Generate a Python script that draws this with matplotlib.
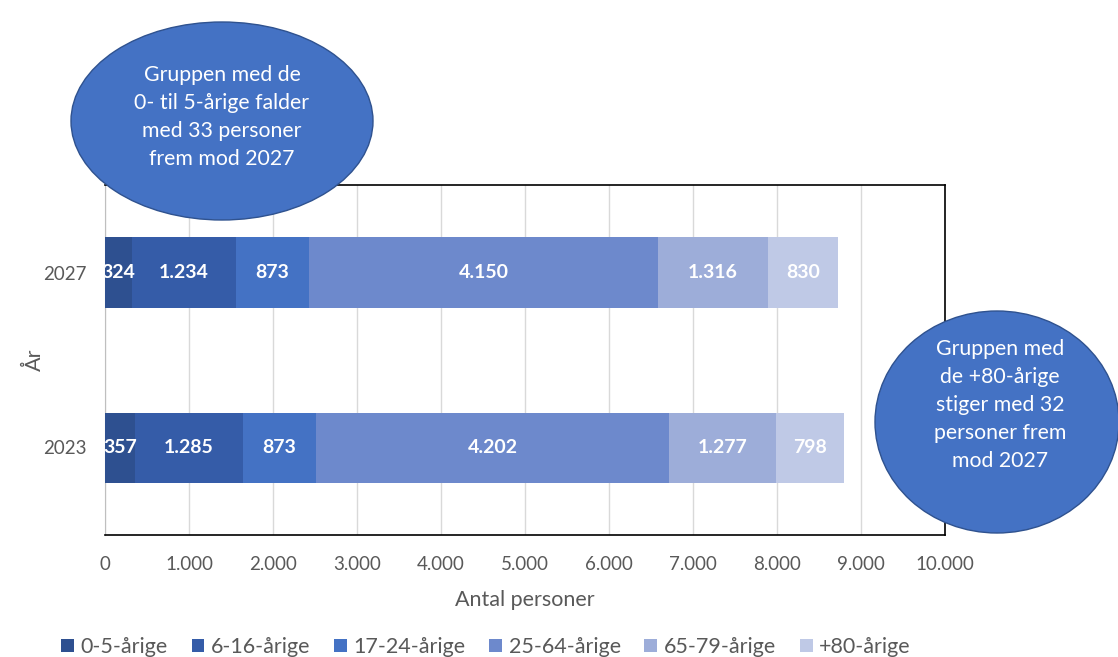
import matplotlib
import matplotlib.pyplot as plt
from matplotlib import ticker as mtick
from matplotlib.patches import Ellipse
import numpy as np

plt.rcParams["font.family"] = ["Lato", "DejaVu Sans"]

# data
years = ["2023", "2027"]
groups = ["0-5-årige", "6-16-årige", "17-24-årige", "25-64-årige", "65-79-årige", "+80-årige"]
v2023 = [357, 1285, 873, 4202, 1277, 798]
v2027 = [324, 1234, 873, 4150, 1316, 830]
colors = ["#2E5090", "#355CA8", "#4472C4", "#6D89CC", "#9DADD9", "#BFC9E6"]

note_left = "Gruppen med de\n0- til 5-årige falder\nmed 33 personer\nfrem mod 2027"
note_right = "Gruppen med\nde +80-årige\nstiger med 32\npersoner frem\nmod 2027"

W, H = 1118, 657
fig = plt.figure(figsize=(W / 100, H / 100), dpi=100)
ax = fig.add_axes([105 / W, 1 - 535 / H, 840 / W, 350 / H])

vals = np.array([v2023, v2027])
y = np.arange(len(years))
left = np.zeros(len(years))
for i, g in enumerate(groups):
    bars = ax.barh(y, vals[:, i], left=left, height=0.4, color=colors[i], label=g, zorder=3)
    for b, v in zip(bars, vals[:, i]):
        ax.text(b.get_x() + b.get_width() / 2, b.get_y() + b.get_height() / 2,
                f"{v:,}".replace(",", "."), ha="center", va="center",
                color="white", fontsize=14, fontweight="bold", zorder=4, clip_on=True)
    left += vals[:, i]

ax.set_xlim(0, 10000)
ax.set_ylim(-0.5, 1.5)
ax.xaxis.set_major_locator(mtick.MultipleLocator(1000))
ax.xaxis.set_major_formatter(mtick.FuncFormatter(lambda x, p: f"{x:,.0f}".replace(",", ".")))
ax.set_yticks(y)
ax.set_yticklabels(years)
ax.grid(axis="x", color="#D9D9D9", linewidth=1, zorder=0)
ax.tick_params(length=0, labelsize=13.5, labelcolor="#595959")
ax.tick_params(axis="x", pad=15)
ax.tick_params(axis="y", pad=13)
for s in ["top", "right", "bottom"]:
    ax.spines[s].set_color("black")
    ax.spines[s].set_linewidth(1.2)
ax.spines["left"].set_color("#BFBFBF")

ax.set_xlabel("Antal personer", fontsize=15.5, color="#595959", labelpad=12)
ax.set_ylabel("År", fontsize=15.5, color="#595959")
ax.yaxis.set_label_coords(-0.072, 0.5)

fig.legend(loc="center", bbox_to_anchor=(486 / W, 1 - 647 / H), ncol=6, frameon=False,
           fontsize=15.5, labelcolor="#595959", handlelength=0.6, handleheight=0.6,
           handletextpad=0.3, columnspacing=1.1)

# overlay for the two callout ellipses, in pixel coordinates
ov = fig.add_axes([0, 0, 1, 1], zorder=10)
ov.set_xlim(0, W)
ov.set_ylim(H, 0)
ov.axis("off")
ov.patch.set_alpha(0)
ov.add_patch(Ellipse((222, 121), 302, 198, facecolor="#4472C4", edgecolor="#2F528F", linewidth=1))
ov.text(222, 117, note_left, ha="center", va="center", color="white", fontsize=15.3, linespacing=1.5)
ov.add_patch(Ellipse((997, 422), 244, 222, facecolor="#4472C4", edgecolor="#2F528F", linewidth=1))
ov.text(1000, 405, note_right, ha="center", va="center", color="white", fontsize=15.3, linespacing=1.5)

plt.savefig("out.png", dpi=100)
